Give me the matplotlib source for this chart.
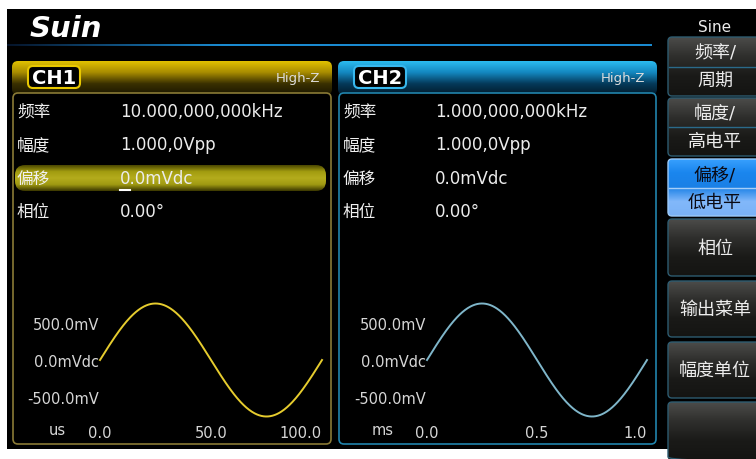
import numpy as np
import matplotlib
matplotlib.use('Agg')
import matplotlib.pyplot as plt
from matplotlib.patches import FancyBboxPatch, Rectangle
from matplotlib.colors import LinearSegmentedColormap

plt.rcParams['font.family'] = ['DejaVu Sans', 'Noto Sans CJK SC']

# values shown on the screen
param_names = ['频率', '幅度', '偏移', '相位']
ch1_values = ['10.000,000,000kHz', '1.000,0Vpp', '0.0mVdc', '0.00°']
ch2_values = ['1.000,000,000kHz', '1.000,0Vpp', '0.0mVdc', '0.00°']

# waveform settings per channel (CH1, CH2)
freq_khz = [10.0, 1.0]
amp_vpp = [1.0, 1.0]
offset_mv = [0.0, 0.0]
phase_deg = [0.0, 0.0]
time_units = ['us', 'ms']
time_scale = [1000.0, 1.0]  # periods in ms -> shown unit
time_ticks = [[0, 50, 100], [0, 0.5, 1.0]]
time_tick_labels = [['0.0', '50.0', '100.0'], ['0.0', '0.5', '1.0']]
volt_labels = ['500.0mV', '0.0mVdc', '-500.0mV']

menu_title = 'Sine'
menu_items = [['频率/', '周期'], ['幅度/', '高电平'], ['偏移/', '低电平'],
              ['相位'], ['输出菜单'], ['幅度单位'], []]
menu_selected = 2

W, H = 756, 460
fig = plt.figure(figsize=(W / 100, H / 100), dpi=100, facecolor='white')
ax = fig.add_axes([0, 0, 1, 1])
ax.axis('off')


def grad_box(x, y, w, h, colors, r, ec='none', lw=1.0, z=2):
    # rounded box filled with a vertical gradient
    patch = FancyBboxPatch((x, y), w, h, boxstyle='round,pad=0,rounding_size=%g' % r,
                           fc='none', ec=ec, lw=lw, zorder=z + 0.5)
    ax.add_patch(patch)
    cmap = LinearSegmentedColormap.from_list('g', colors)
    img = ax.imshow(np.linspace(0, 1, 256).reshape(-1, 1), cmap=cmap,
                    extent=(x, x + w, y + h, y), aspect='auto', zorder=z)
    img.set_clip_path(patch)
    return patch


# black screen
ax.add_patch(Rectangle((7, 10), W - 7, 440, fc='black', ec='none', zorder=0))

# logo and header line
ax.text(30, 29, 'Suin', fontsize=21, fontweight='bold', fontstyle='italic',
        color='white', va='center', ha='left', zorder=5)
line_cmap = LinearSegmentedColormap.from_list('l', ['#05142a', '#1a8ad0', '#1a8ad0', '#1a8ad0'])
ax.imshow(np.linspace(0, 1, 256).reshape(1, -1), cmap=line_cmap,
          extent=(7, 652, 47, 45.5), aspect='auto', zorder=1)

# channel panels
panels = [
    dict(x0=12, x1=332, hdr=['#e2c200', '#a88c00', '#3a3000', '#1a1600'], edge='#8a7a36',
         lab_edge='#e8c800', vx=120, wave=(100, 322), wcol='#e6cc2e', unit_x=57),
    dict(x0=338, x1=657, hdr=['#2cbcf0', '#1488c0', '#053a5a', '#021a2a'], edge='#2184ac',
         lab_edge='#38b8ee', vx=435, wave=(427, 647), wcol='#7fb6ca', unit_x=383),
]
values = [ch1_values, ch2_values]
row_y = [112, 145, 179, 212]

for i, p in enumerate(panels):
    x0, x1 = p['x0'], p['x1']
    grad_box(x0, 62, x1 - x0, 34, p['hdr'], 6, z=2)
    ax.add_patch(FancyBboxPatch((x0 + 1, 94), x1 - x0 - 2, 351,
                                boxstyle='round,pad=0,rounding_size=5',
                                fc='black', ec=p['edge'], lw=1.2, zorder=3))
    ax.add_patch(FancyBboxPatch((x0 + 16, 67), 52, 22, boxstyle='round,pad=0,rounding_size=5',
                                fc='black', ec=p['lab_edge'], lw=1.5, zorder=4))
    ax.text(x0 + 42, 78.5, 'CH%d' % (i + 1), fontsize=14, fontweight='bold', color='white',
            ha='center', va='center', zorder=5)
    ax.text(x1 - 12, 78.5, 'High-Z', fontsize=9.5, color='#dcdcdc', ha='right', va='center', zorder=5)

    if i == 0:
        # selected row (offset)
        grad_box(15, 166, 311, 26, ['#4a4600', '#a29c10', '#b4ac1c', '#a09a12', '#3a3600'], 10, z=4)
        ax.plot([120, 130], [191, 191], color='white', lw=1.5, zorder=6)

    for name, val, y in zip(param_names, values[i], row_y):
        ax.text(x0 + 5, y, name, fontsize=12, color='#f0f0f0', ha='left', va='center', zorder=6)
        ax.text(p['vx'], y, val, fontsize=12, color='#ececec', ha='left', va='center', zorder=6)

    # axis texts of the waveform
    wl, wr = p['wave']
    for lab, y in zip(volt_labels, [326, 363, 400]):
        ax.text(wl - 1, y, lab, fontsize=10.5, color='#d6d6d6', ha='right', va='center', zorder=6)
    ax.text(p['unit_x'], 431, time_units[i], fontsize=10.5, color='#d6d6d6',
            ha='center', va='center', zorder=6)

    # waveform through its own axes
    zero_y, amp_px = 361, 56.5
    wax = fig.add_axes([wl / W, 1 - (zero_y + amp_px) / H, (wr - wl) / W, 2 * amp_px / H])
    wax.set_facecolor('none')
    period = 1.0 / freq_khz[i] * time_scale[i]
    t = np.linspace(0, period, 400)
    v = amp_vpp[i] / 2 * 1000 * np.sin(2 * np.pi * t / period + np.radians(phase_deg[i])) + offset_mv[i]
    wax.plot(t, v, color=p['wcol'], lw=1.4, clip_on=False)
    wax.set_xlim(0, period)
    wax.set_ylim(-amp_vpp[i] / 2 * 1000, amp_vpp[i] / 2 * 1000)
    wax.set_xticks(time_ticks[i], time_tick_labels[i])
    wax.set_yticks([])
    wax.tick_params(axis='x', length=0, pad=6, labelsize=10.5, labelcolor='#d6d6d6')
    wax.get_xticklabels()[-1].set_ha('right')
    for s in wax.spines.values():
        s.set_visible(False)

# soft menu on the right
ax.text(715, 27, menu_title, fontsize=11, color='#ececec', ha='center', va='center', zorder=5)
btn_y = [(38, 97), (99, 157), (160, 217), (220, 277), (282, 338), (343, 399), (403, 462)]
for k, (items, (y0, y1)) in enumerate(zip(menu_items, btn_y)):
    mid = (y0 + y1) / 2
    if k == menu_selected:
        grad_box(668, y0, 100, y1 - y0, ['#3aa2ff', '#1a86ee', '#1a80e6', '#82b8fa', '#7ab2f6'],
                 4, ec='#9ccaf8', lw=1.0, z=2)
        tcol = '#0a0a14'
    else:
        grad_box(668, y0, 100, y1 - y0, ['#4c4c4a', '#2e2e2c', '#1a1a18', '#141412'],
                 4, ec='#2d5b70', lw=1.0, z=2)
        tcol = '#ececec'
    if len(items) == 2:
        ax.plot([669, 756], [mid, mid], color='#2a6a8a' if k != menu_selected else '#a6cef8',
                lw=1.0, zorder=4)
        ax.text(715, (y0 + mid) / 2 + 1, items[0], fontsize=13, color=tcol, ha='center',
                va='center', zorder=5)
        ax.text(715, (mid + y1) / 2, items[1], fontsize=13, color=tcol, ha='center',
                va='center', zorder=5)
    elif len(items) == 1:
        ax.text(715, mid, items[0], fontsize=13, color=tcol, ha='center', va='center', zorder=5)

ax.set_xlim(0, W)
ax.set_ylim(H, 0)
fig.savefig('out.png', dpi=100, facecolor='white')
